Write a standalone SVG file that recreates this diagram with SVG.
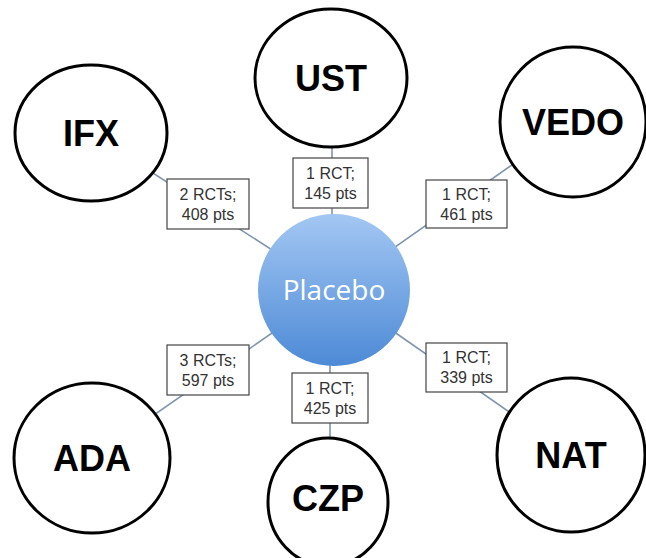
<svg xmlns="http://www.w3.org/2000/svg" width="646" height="558" viewBox="0 0 646 558">
<defs>
<linearGradient id="pg" x1="0" y1="0" x2="0" y2="1">
<stop offset="0" stop-color="#a3c7f3"/>
<stop offset="1" stop-color="#4d8ad6"/>
</linearGradient>
<style>
.node{fill:#fff;stroke:#000;stroke-width:3}
.nt{font-family:"Liberation Sans",Arial,sans-serif;font-weight:bold;font-size:36px;fill:#000;text-anchor:middle}
.edge{stroke:#7f95ad;stroke-width:1.6;fill:none}
.lb{fill:#fff;stroke:#444;stroke-width:1.2}
.lt{font-family:"Liberation Sans",Arial,sans-serif;font-size:16px;fill:#333;text-anchor:middle}
</style>
</defs>
<rect width="646" height="558" fill="#fff"/>
<g id="connectors">
<line class="edge" x1="334" y1="290" x2="91" y2="133"/>
<line class="edge" x1="332" y1="290" x2="332" y2="78"/>
<line class="edge" x1="334" y1="290" x2="573" y2="122"/>
<line class="edge" x1="334" y1="290" x2="92" y2="458"/>
<line class="edge" x1="330" y1="290" x2="330" y2="500"/>
<line class="edge" x1="334" y1="290" x2="571" y2="455"/>
</g>
<g id="IFX"><ellipse class="node" cx="91" cy="133" rx="76" ry="68"/><text class="nt" x="91" y="146">IFX</text></g>
<g id="UST"><ellipse class="node" cx="331" cy="78" rx="76" ry="69"/><text class="nt" x="331" y="91">UST</text></g>
<g id="VEDO"><ellipse class="node" cx="573" cy="122" rx="73" ry="75"/><text class="nt" x="573" y="135">VEDO</text></g>
<g id="ADA"><ellipse class="node" cx="92" cy="458" rx="78" ry="75"/><text class="nt" x="92" y="471">ADA</text></g>
<g id="CZP"><ellipse class="node" cx="328" cy="502" rx="60" ry="64"/><text class="nt" x="328" y="511">CZP</text></g>
<g id="NAT"><ellipse class="node" cx="571" cy="455" rx="74" ry="77"/><text class="nt" x="571" y="468">NAT</text></g>
<g id="Placebo"><circle cx="334" cy="290" r="76" fill="url(#pg)"/><text x="334" y="300" font-family="'Open Sans',sans-serif" font-size="28" fill="#fff" text-anchor="middle">Placebo</text></g>
<g id="edge-labels">
<g id="lbl-IFX"><rect class="lb" x="167" y="179" width="82" height="50"/><text class="lt" x="208" y="200">2 RCTs;</text><text class="lt" x="208" y="220">408 pts</text></g>
<g id="lbl-UST"><rect class="lb" x="293" y="158" width="75" height="50"/><text class="lt" x="330.5" y="179">1 RCT;</text><text class="lt" x="330.5" y="199">145 pts</text></g>
<g id="lbl-VEDO"><rect class="lb" x="426" y="180" width="81" height="48"/><text class="lt" x="466.5" y="200">1 RCT;</text><text class="lt" x="466.5" y="220">461 pts</text></g>
<g id="lbl-ADA"><rect class="lb" x="167" y="345" width="82" height="50"/><text class="lt" x="208" y="366">3 RCTs;</text><text class="lt" x="208" y="386">597 pts</text></g>
<g id="lbl-CZP"><rect class="lb" x="292" y="373" width="76" height="50"/><text class="lt" x="330" y="394">1 RCT;</text><text class="lt" x="330" y="414">425 pts</text></g>
<g id="lbl-NAT"><rect class="lb" x="426" y="343" width="81" height="49"/><text class="lt" x="466.5" y="363">1 RCT;</text><text class="lt" x="466.5" y="383">339 pts</text></g>
</g>
</svg>
